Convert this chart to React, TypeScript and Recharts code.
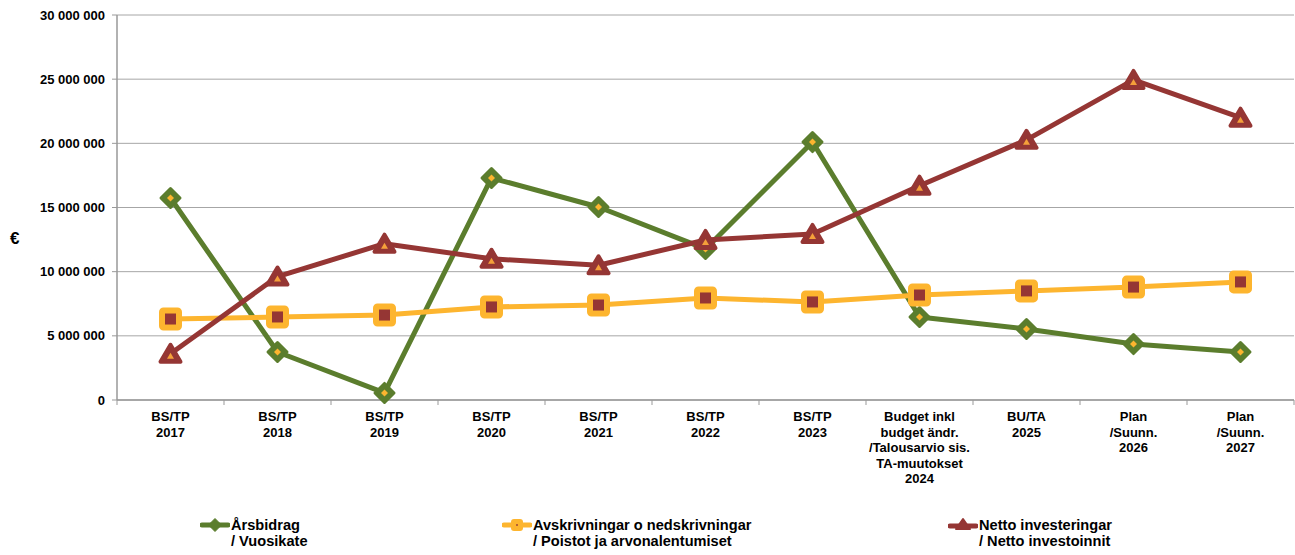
import React from 'react';
import { LineChart, Line, XAxis, YAxis, CartesianGrid, Legend, Label } from 'recharts';

const categories = [
  'BS/TP\n2017',
  'BS/TP\n2018',
  'BS/TP\n2019',
  'BS/TP\n2020',
  'BS/TP\n2021',
  'BS/TP\n2022',
  'BS/TP\n2023',
  'Budget inkl\nbudget ändr.\n/Talousarvio sis.\nTA-muutokset\n2024',
  'BU/TA\n2025',
  'Plan\n/Suunn.\n2026',
  'Plan\n/Suunn.\n2027',
];

const arsbidrag = [15740000, 3740000, 550000, 17300000, 15040000, 11770000, 20100000, 6470000, 5530000, 4360000, 3740000];
const avskrivningar = [6310000, 6470000, 6620000, 7250000, 7400000, 7950000, 7640000, 8180000, 8500000, 8800000, 9200000];
const nettoInvesteringar = [3600000, 9620000, 12180000, 11000000, 10500000, 12470000, 12940000, 16700000, 20270000, 24940000, 22000000];

const yTicks = [0, 5000000, 10000000, 15000000, 20000000, 25000000, 30000000];

const seriesNames = {
  ars: 'Årsbidrag\n/ Vuosikate',
  avs: 'Avskrivningar o nedskrivningar\n/ Poistot ja arvonalentumiset',
  net: 'Netto investeringar\n/ Netto investoinnit',
};

const data = categories.map((c, i) => ({
  name: c,
  ars: arsbidrag[i],
  avs: avskrivningar[i],
  net: nettoInvesteringar[i],
}));

const GREEN = '#5B7D2D';
const YELLOW = '#FDB52F';
const RED = '#953634';
const ORANGE = '#F5A03A';
const FONT = '"Liberation Sans", Arial, sans-serif';

const fmt = (v: number) => String(v).replace(/\B(?=(\d{3})+(?!\d))/g, ' ');

const DiamondDot = (p: any) => {
  const { cx, cy, index } = p;
  if (cx == null || cy == null) return <g key={`ad-${index}`} />;
  const r = 9.5;
  const ri = 3.5;
  return (
    <g key={`ad-${index}`}>
      <path d={`M${cx},${cy - r} L${cx + r},${cy} L${cx},${cy + r} L${cx - r},${cy} Z`} fill={GREEN} stroke={GREEN} strokeWidth={3} strokeLinejoin="round" />
      <path d={`M${cx},${cy - ri} L${cx + ri},${cy} L${cx},${cy + ri} L${cx - ri},${cy} Z`} fill={YELLOW} />
    </g>
  );
};

const SquareDot = (p: any) => {
  const { cx, cy, index } = p;
  if (cx == null || cy == null) return <g key={`sq-${index}`} />;
  return (
    <g key={`sq-${index}`}>
      <rect x={cx - 10} y={cy - 10} width={20} height={20} rx={3} fill={YELLOW} stroke={YELLOW} strokeWidth={3} />
      <rect x={cx - 5.5} y={cy - 5.5} width={11} height={11} fill={RED} />
    </g>
  );
};

const TriangleDot = (p: any) => {
  const { cx, cy, index } = p;
  if (cx == null || cy == null) return <g key={`tr-${index}`} />;
  return (
    <g key={`tr-${index}`}>
      <path d={`M${cx},${cy - 9} L${cx + 10},${cy + 8} L${cx - 10},${cy + 8} Z`} fill={RED} stroke={RED} strokeWidth={4} strokeLinejoin="round" />
      <path d={`M${cx},${cy - 1} L${cx + 3.5},${cy + 5} L${cx - 3.5},${cy + 5} Z`} fill={ORANGE} />
    </g>
  );
};

const XTick = (p: any) => {
  const { x, y, payload, index, visibleTicksCount } = p;
  const lines = String(payload.value).split('\n');
  const half = payload.offset || 53.5;
  const axisY = y;
  return (
    <g>
      <line x1={x - half} y1={axisY} x2={x - half} y2={axisY + 5} stroke="#999" strokeWidth={1} />
      {index === visibleTicksCount - 1 && (
        <line x1={x + half} y1={axisY} x2={x + half} y2={axisY + 5} stroke="#999" strokeWidth={1} />
      )}
      <text x={x} y={axisY + 21} textAnchor="middle" fontFamily={FONT} fontWeight="bold" fontSize={13} fill="#000">
        {lines.map((l, i) => (
          <tspan key={i} x={x} dy={i === 0 ? 0 : 15.5}>{l}</tspan>
        ))}
      </text>
    </g>
  );
};

const legendLeft: Record<string, number> = { ars: 200, avs: 502, net: 948 };

const LegendIcon = ({ k }: { k: string }) => {
  if (k === 'ars') {
    return (
      <svg width={30} height={16} style={{ position: 'absolute', left: 0, top: 0 }}>
        <line x1={2} y1={8} x2={28} y2={8} stroke={GREEN} strokeWidth={5} strokeLinecap="round" />
        <path d="M15,1.5 L21.5,8 L15,14.5 L8.5,8 Z" fill={GREEN} stroke={GREEN} strokeWidth={1} strokeLinejoin="round" />
      </svg>
    );
  }
  if (k === 'avs') {
    return (
      <svg width={30} height={16} style={{ position: 'absolute', left: 0, top: 0 }}>
        <line x1={2} y1={8} x2={28} y2={8} stroke={YELLOW} strokeWidth={5} strokeLinecap="round" />
        <rect x={9} y={2} width={12} height={12} rx={3} fill={YELLOW} />
        <rect x={14.2} y={7.2} width={1.6} height={1.6} fill={RED} />
      </svg>
    );
  }
  return (
    <svg width={30} height={16} style={{ position: 'absolute', left: 0, top: 0 }}>
      <line x1={2} y1={9} x2={28} y2={9} stroke={RED} strokeWidth={5} strokeLinecap="round" />
      <path d="M15,2 L22,12 L8,12 Z" fill={RED} stroke={RED} strokeWidth={2} strokeLinejoin="round" />
    </svg>
  );
};

const LegendContent = (props: any) => {
  const payload = props.payload || [];
  return (
    <div style={{ position: 'relative', width: 1295, height: 55 }}>
      {payload.map((item: any) => {
        const k = item.dataKey as string;
        const lines = String(item.value).split('\n');
        return (
          <div key={k} style={{ position: 'absolute', left: legendLeft[k], top: 17 }}>
            <LegendIcon k={k} />
            <div style={{ position: 'absolute', left: 31, top: 0, whiteSpace: 'nowrap', fontFamily: FONT, fontWeight: 'bold', fontSize: 14.6, lineHeight: '16px', color: '#000' }}>
              {lines.map((l, i) => (
                <div key={i}>{l}</div>
              ))}
            </div>
          </div>
        );
      })}
    </div>
  );
};

export default function App() {
  return (
    <div style={{ position: 'absolute', left: 0, top: 0, width: 1295, height: 555, background: '#fff' }}>
      <LineChart width={1295} height={555} data={data} margin={{ top: 15, right: 1, left: 0, bottom: 0 }}>
        <CartesianGrid vertical={false} stroke="#a6a6a6" strokeWidth={1} />
        <XAxis
          dataKey="name"
          scale="band"
          interval={0}
          height={100}
          tickLine={false}
          tickSize={0}
          tickMargin={0}
          axisLine={{ stroke: '#999', strokeWidth: 1.5 }}
          tick={<XTick />}
        />
        <YAxis
          width={117}
          domain={[0, 30000000]}
          ticks={yTicks}
          interval={0}
          tickFormatter={fmt}
          tickSize={5}
          tickMargin={7}
          tickLine={{ stroke: '#999' }}
          axisLine={{ stroke: '#999', strokeWidth: 1.5 }}
          tick={{ fontFamily: FONT, fontWeight: 'bold', fontSize: 13, fill: '#000' }}
        >
          <Label value="€" position="insideLeft" offset={10} dy={30} style={{ fontFamily: FONT, fontWeight: 'bold', fontSize: 17, fill: '#000' }} />
        </YAxis>
        <Legend verticalAlign="bottom" align="left" wrapperStyle={{ left: 0, width: 1295, height: 55 }} content={<LegendContent />} />
        <Line type="linear" dataKey="ars" name={seriesNames.ars} stroke={GREEN} strokeWidth={5} strokeLinejoin="round" dot={DiamondDot} activeDot={false} isAnimationActive={false} />
        <Line type="linear" dataKey="avs" name={seriesNames.avs} stroke={YELLOW} strokeWidth={5} strokeLinejoin="round" dot={SquareDot} activeDot={false} isAnimationActive={false} />
        <Line type="linear" dataKey="net" name={seriesNames.net} stroke={RED} strokeWidth={5} strokeLinejoin="round" dot={TriangleDot} activeDot={false} isAnimationActive={false} />
      </LineChart>
    </div>
  );
}
